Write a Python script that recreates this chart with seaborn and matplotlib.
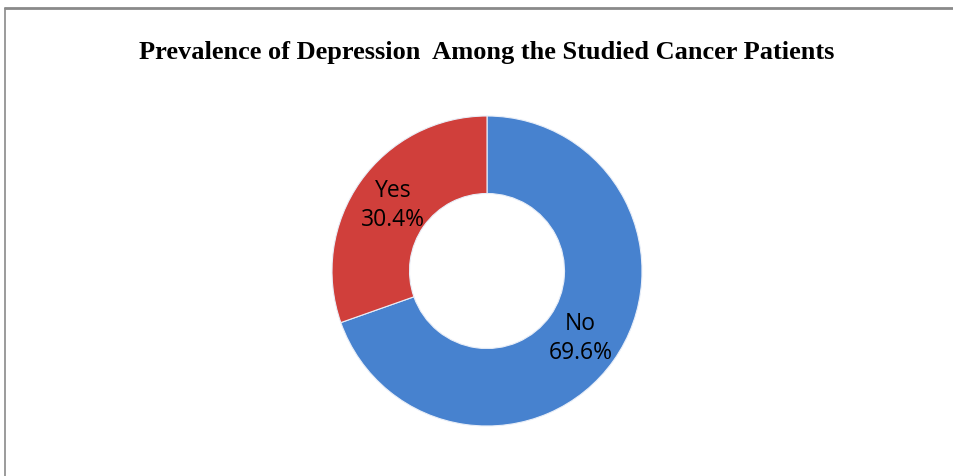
import seaborn as sns
import numpy as np
import matplotlib.pyplot as plt
from matplotlib.lines import Line2D

# data
categories = ["No", "Yes"]
percents = [69.6, 30.4]
colors = ["#4782cf", "#d03f3b"]

sns.set_theme(style="white")
plt.rcParams['font.family'] = ['Open Sans', 'DejaVu Sans']

fig = plt.figure(figsize=(9.54, 4.77), dpi=100)
ax = fig.add_axes([(487 - 155) / 954, (477 - 427) / 477, 310 / 954, 310 / 477])

ax.pie(percents, colors=colors, startangle=90, counterclock=False, radius=1,
       wedgeprops=dict(width=0.5, edgecolor="#e8eef8", linewidth=0.8))

# labels at the middle of each wedge
total = sum(percents)
start = 90
for cat, p in zip(categories, percents):
    mid = np.deg2rad(start - 360 * p / total / 2)
    start -= 360 * p / total
    d = 0.74
    ax.text(d * np.cos(mid), d * np.sin(mid), "{}\n{:.1f}%".format(cat, p),
            ha="center", va="center", fontsize=16.5, color="black", linespacing=1.3)
ax.set_xlim(-1, 1)
ax.set_ylim(-1, 1)
ax.set_aspect("equal")

fig.text(487 / 954, 1 - 53 / 477, "Prevalence of Depression  Among the Studied Cancer Patients",
         ha="center", va="center", fontsize=19, fontweight="bold", color="black",
         family=["Liberation Serif", "DejaVu Serif"])

# chart frame (only top and left edges show)
fig.add_artist(Line2D([5 / 954, 1], [1 - 9 / 477, 1 - 9 / 477], transform=fig.transFigure,
                      color="#8a8a8a", linewidth=2))
fig.add_artist(Line2D([5 / 954, 5 / 954], [0, 1 - 9 / 477], transform=fig.transFigure,
                      color="#8a8a8a", linewidth=1.2))

fig.savefig("out.png", dpi=100)
